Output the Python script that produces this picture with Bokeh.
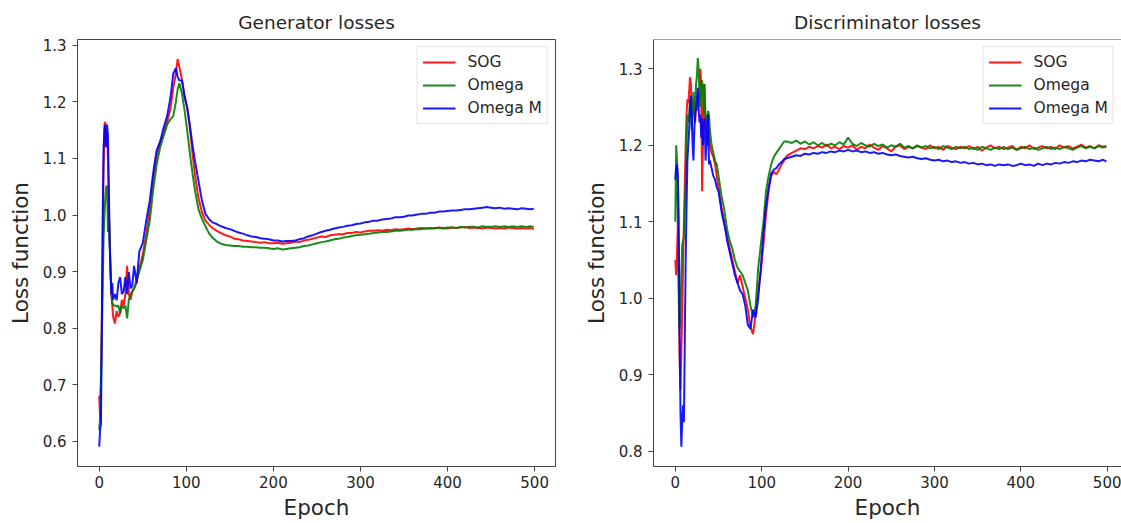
from bokeh.plotting import figure
from bokeh.models import Range1d, FixedTicker, Legend, LegendItem, Span, NumeralTickFormatter
from bokeh.layouts import row
from bokeh.embed import file_html
from bokeh.resources import INLINE

# ---------------- data ----------------
series_names = ["SOG", "Omega", "Omega M"]
series_colors = ["#ff0000", "#008000", "#0000ff"]

gen_epochs = [0, 1, 2, 3, 4, 5, 6, 7, 8, 9, 10, 11, 12, 13, 14, 15, 16,
              18, 20, 22, 24, 26, 28, 30, 32, 34, 36, 38, 40,
              43, 46,
              50, 54, 58, 62, 66, 70, 74, 78, 82,
              85, 88, 90, 92, 95, 98, 101, 104, 107, 110,
              114, 118, 122, 126, 130,
              135, 140, 145, 150, 155, 160, 165, 170, 175, 180,
              185, 190, 195, 200, 205, 210, 215, 220, 225, 230,
              235, 240, 245, 250, 255, 260, 265, 270, 275, 280,
              285, 290, 295, 300, 305, 310, 315, 320, 325, 330,
              335, 340, 345, 350, 355, 360, 365, 370, 375, 380,
              385, 390, 395, 400, 405, 410, 415, 420, 425, 430,
              435, 440, 445, 450, 455, 460, 465, 470, 475, 480,
              485, 490, 495,
              499]

gen_sog = [0.68, 0.64, 0.72, 0.82, 0.95, 1.08, 1.16, 1.165, 1.12, 1.15, 1.10, 1.02, 0.95, 0.90, 0.86, 0.84, 0.82,
           0.808, 0.83, 0.82, 0.826, 0.85, 0.84, 0.86, 0.91, 0.86, 0.85, 0.865, 0.87,
           0.88, 0.905,
           0.93, 0.965, 1.01, 1.065, 1.105, 1.13, 1.145, 1.165, 1.19,
           1.225, 1.25, 1.276, 1.262, 1.24, 1.21, 1.19, 1.155, 1.11, 1.07,
           1.03, 1.005, 0.99, 0.983, 0.977,
           0.972, 0.968, 0.964, 0.962, 0.958, 0.957, 0.955, 0.954, 0.953, 0.952,
           0.951, 0.952, 0.950, 0.950, 0.951, 0.949, 0.950, 0.951, 0.953, 0.952,
           0.955, 0.956, 0.958, 0.960, 0.962, 0.961, 0.964, 0.965, 0.966, 0.966,
           0.968, 0.968, 0.970, 0.969, 0.971, 0.972, 0.972, 0.973, 0.972, 0.974,
           0.973, 0.975, 0.974, 0.975, 0.976, 0.975, 0.976, 0.977, 0.976, 0.977,
           0.976, 0.978, 0.977, 0.976, 0.978, 0.977, 0.978, 0.979, 0.977, 0.978,
           0.977, 0.976, 0.978, 0.977, 0.976, 0.977, 0.976, 0.978, 0.977, 0.976,
           0.977, 0.976, 0.977,
           0.975]

gen_omega = [0.62, 0.64, 0.70, 0.78, 0.88, 0.96, 1.0, 1.03, 1.05, 1.052, 0.97, 1.0, 0.96, 0.90, 0.86, 0.845, 0.84,
             0.84, 0.838, 0.84, 0.826, 0.84, 0.835, 0.84, 0.817, 0.85, 0.86, 0.865, 0.87,
             0.885, 0.90,
             0.92, 0.955, 0.99, 1.045, 1.09, 1.12, 1.14, 1.16, 1.17,
             1.175, 1.20, 1.222, 1.233, 1.215, 1.185, 1.15, 1.11, 1.075, 1.043,
             1.01, 0.993, 0.98, 0.968, 0.96,
             0.953, 0.949, 0.947, 0.946, 0.945, 0.945, 0.944, 0.944, 0.943, 0.943,
             0.942, 0.942, 0.941, 0.940, 0.941, 0.939, 0.940, 0.941, 0.942, 0.943,
             0.945, 0.946, 0.948, 0.950, 0.952, 0.953, 0.955, 0.957, 0.958, 0.960,
             0.961, 0.963, 0.964, 0.965, 0.966, 0.967, 0.968, 0.969, 0.970, 0.970,
             0.971, 0.972, 0.972, 0.973, 0.974, 0.974, 0.975, 0.975, 0.976, 0.976,
             0.977, 0.977, 0.976, 0.978, 0.978, 0.977, 0.979, 0.978, 0.979, 0.979,
             0.978, 0.980, 0.979, 0.979, 0.980, 0.979, 0.980, 0.979, 0.980, 0.979,
             0.980, 0.979, 0.980,
             0.979]

gen_omega_m = [0.59, 0.62, 0.63, 0.80, 1.0, 1.12, 1.15, 1.16, 1.12, 1.16, 1.14, 1.05, 0.95, 0.90, 0.86, 0.88, 0.85,
               0.86, 0.849, 0.88, 0.89, 0.86, 0.865, 0.89, 0.86, 0.899, 0.87, 0.875, 0.91,
               0.88, 0.935,
               0.95, 0.99, 1.025, 1.075, 1.115, 1.13, 1.155, 1.175, 1.21,
               1.25, 1.26, 1.245, 1.238, 1.238, 1.21, 1.19, 1.16, 1.125, 1.095,
               1.06, 1.025, 1.002, 0.993, 0.987,
               0.984, 0.980, 0.977, 0.975, 0.972, 0.969, 0.967, 0.964, 0.962, 0.961,
               0.959, 0.958, 0.957, 0.955, 0.955, 0.953, 0.954, 0.954, 0.955, 0.957,
               0.959, 0.962, 0.964, 0.967, 0.970, 0.972, 0.974, 0.976, 0.978, 0.979,
               0.981, 0.982, 0.984, 0.985, 0.987, 0.988, 0.990, 0.990, 0.992, 0.993,
               0.994, 0.996, 0.996, 0.997, 0.999, 0.999, 1.001, 1.002, 1.002, 1.004,
               1.004, 1.006, 1.006, 1.007, 1.008, 1.008, 1.009, 1.010, 1.010, 1.011,
               1.012, 1.013, 1.014, 1.013, 1.012, 1.013, 1.011, 1.012, 1.011, 1.010,
               1.012, 1.011, 1.010,
               1.011]

disc_epochs = [0, 1, 2, 3, 4, 5, 6, 7, 8, 9,
               10, 11, 12, 13, 14, 15, 16, 17, 18, 19,
               20, 21, 22, 23, 24, 25, 26, 27, 28, 29,
               30, 31, 32, 33, 34, 35, 36, 37, 38, 39,
               40,
               42, 44, 46, 48, 50, 52, 54, 56, 58, 60,
               63, 66, 69, 72, 75, 78, 81, 84, 87, 90, 93, 96, 99, 102, 105, 108, 111, 114, 117, 120, 123, 126, 129,
               135, 140, 145, 150, 155, 160, 165, 170, 175, 180,
               185, 190, 195, 200, 205, 210, 215, 220, 225, 230,
               235, 240, 245, 250, 255, 260, 265, 270, 275, 280,
               285, 290, 295, 300, 305, 310, 315, 320, 325, 330,
               335, 340, 345, 350, 355, 360, 365, 370, 375, 380,
               385, 390, 395, 400, 405, 410, 415, 420, 425, 430,
               435, 440, 445, 450, 455, 460, 465, 470, 475, 480,
               485, 490, 495,
               499]

disc_sog = [1.05, 1.03, 1.06, 1.10, 1.00, 0.92, 0.88, 0.93, 0.98, 1.05,
            1.10, 1.15, 1.20, 1.24, 1.26, 1.255, 1.27, 1.289, 1.28, 1.25,
            1.24, 1.26, 1.24, 1.23, 1.25, 1.245, 1.26, 1.27, 1.26, 1.30,
            1.28, 1.14, 1.20, 1.28, 1.26, 1.22, 1.24, 1.20, 1.23, 1.21,
            1.20,
            1.19, 1.185, 1.175, 1.16, 1.145, 1.13, 1.115, 1.105, 1.09, 1.08,
            1.065, 1.05, 1.035, 1.02, 1.03, 1.015, 1.0, 0.985, 0.962, 0.953, 0.98, 1.01, 1.035, 1.07, 1.11, 1.14,
            1.16, 1.165, 1.162, 1.168, 1.175, 1.18, 1.186,
            1.190, 1.193, 1.196, 1.195, 1.198, 1.196, 1.199, 1.197, 1.201, 1.196,
            1.198, 1.195, 1.199, 1.197, 1.200, 1.194, 1.198, 1.196, 1.201, 1.197,
            1.194, 1.199, 1.196, 1.192, 1.198, 1.200, 1.195, 1.198, 1.196, 1.199,
            1.197, 1.195, 1.200, 1.196, 1.198, 1.194, 1.199, 1.197, 1.195, 1.198,
            1.196, 1.199, 1.195, 1.198, 1.193, 1.197, 1.200, 1.196, 1.198, 1.195,
            1.197, 1.199, 1.194, 1.198, 1.196, 1.200, 1.195, 1.197, 1.199, 1.196,
            1.198, 1.195, 1.200, 1.197, 1.199, 1.196, 1.198, 1.201, 1.197, 1.199,
            1.196, 1.200, 1.198,
            1.199]

disc_omega = [1.10, 1.20, 1.18, 1.10, 1.02, 0.96, 0.98, 1.03, 1.07, 1.075,
              1.08, 1.12, 1.15, 1.20, 1.24, 1.23, 1.24, 1.26, 1.25, 1.22,
              1.24, 1.27, 1.24, 1.25, 1.28, 1.29, 1.314, 1.30, 1.27, 1.25,
              1.28, 1.285, 1.27, 1.24, 1.28, 1.235, 1.24, 1.23, 1.245, 1.24,
              1.22,
              1.20, 1.19, 1.18, 1.175, 1.16, 1.145, 1.13, 1.12, 1.105, 1.09,
              1.075, 1.065, 1.05, 1.04, 1.035, 1.03, 1.02, 1.01, 0.99, 0.975, 0.99, 1.04, 1.07, 1.10, 1.14, 1.16,
              1.175, 1.185, 1.19, 1.195, 1.20, 1.205, 1.205,
              1.203, 1.206, 1.202, 1.205, 1.201, 1.204, 1.200, 1.203, 1.199, 1.202,
              1.200, 1.204, 1.201, 1.210, 1.202, 1.199, 1.203, 1.200, 1.198, 1.202,
              1.199, 1.201, 1.197, 1.200, 1.198, 1.202, 1.197, 1.199, 1.196, 1.200,
              1.197, 1.199, 1.196, 1.198, 1.195, 1.199, 1.197, 1.195, 1.198, 1.196,
              1.198, 1.195, 1.197, 1.194, 1.198, 1.196, 1.194, 1.197, 1.195, 1.198,
              1.195, 1.197, 1.194, 1.196, 1.198, 1.195, 1.197, 1.194, 1.196, 1.198,
              1.195, 1.197, 1.195, 1.198, 1.196, 1.194, 1.197, 1.199, 1.196, 1.198,
              1.196, 1.199, 1.197,
              1.198]

disc_omega_m = [1.155, 1.17, 1.175, 1.16, 1.10, 0.95, 0.85, 0.806, 0.84, 0.86,
                0.838, 0.95, 1.05, 1.12, 1.18, 1.20, 1.22, 1.25, 1.265, 1.24,
                1.20, 1.18, 1.22, 1.24, 1.25, 1.26, 1.275, 1.25, 1.23, 1.24,
                1.21, 1.235, 1.20, 1.22, 1.235, 1.18, 1.20, 1.23, 1.24, 1.175,
                1.18,
                1.17, 1.16, 1.155, 1.145, 1.14, 1.125, 1.11, 1.10, 1.09, 1.075,
                1.06, 1.045, 1.03, 1.02, 1.01, 1.005, 0.99, 0.965, 0.96, 0.985, 0.975, 1.0, 1.04, 1.085, 1.12, 1.145,
                1.163, 1.168, 1.17, 1.175, 1.178, 1.182, 1.183,
                1.185, 1.187, 1.186, 1.189, 1.188, 1.190, 1.189, 1.191, 1.190, 1.192,
                1.191, 1.193, 1.192, 1.194, 1.192, 1.193, 1.191, 1.192, 1.190, 1.191,
                1.189, 1.190, 1.188, 1.187, 1.188, 1.186, 1.185, 1.184, 1.185, 1.183,
                1.182, 1.183, 1.181, 1.180, 1.181, 1.179, 1.180, 1.178, 1.179, 1.177,
                1.178, 1.176, 1.177, 1.175, 1.176, 1.174, 1.175, 1.173, 1.175, 1.174,
                1.175, 1.173, 1.174, 1.176, 1.174, 1.175, 1.173, 1.176, 1.174, 1.176,
                1.175, 1.177, 1.176, 1.178, 1.177, 1.179, 1.178, 1.180, 1.179, 1.181,
                1.180, 1.179, 1.181,
                1.179]

x_ticks = [0, 100, 200, 300, 400, 500]
gen_y_ticks = [0.6, 0.7, 0.8, 0.9, 1.0, 1.1, 1.2, 1.3]
disc_y_ticks = [0.8, 0.9, 1.0, 1.1, 1.2, 1.3]

titles = ["Generator losses", "Discriminator losses"]
x_label = "Epoch"
y_label = "Loss function"

# ---------------- styling ----------------
FONT = "DejaVu Sans"
TEXT = "#262626"
SPINE = "#444444"


def make_fig(title, width, xr, yr, yticks, min_left, min_right, epochs, series, outline):
    p = figure(width=width, height=523,
               x_range=Range1d(*xr), y_range=Range1d(*yr),
               output_backend="svg", toolbar_location=None,
               min_border_left=min_left, min_border_right=min_right,
               min_border_top=39, min_border_bottom=57)
    p.background_fill_color = "white"
    p.border_fill_color = "white"
    p.grid.visible = False
    if outline:
        p.outline_line_color = SPINE
        p.outline_line_width = 1
    else:
        p.outline_line_color = None
        p.add_layout(Span(location=yr[1], dimension="width",
                          line_color=SPINE, line_width=1))

    p.title.text = title
    p.title.align = "center"
    p.title.text_font = FONT
    p.title.text_font_size = "18.5px"
    p.title.text_font_style = "normal"
    p.title.text_color = TEXT
    p.title.standoff = 13

    p.xaxis.ticker = FixedTicker(ticks=x_ticks)
    p.yaxis.ticker = FixedTicker(ticks=yticks)
    p.yaxis.formatter = NumeralTickFormatter(format="0.0")
    p.xaxis.axis_label = x_label
    p.yaxis.axis_label = y_label
    for ax in (p.xaxis[0], p.yaxis[0]):
        ax.axis_line_color = SPINE
        ax.axis_line_width = 1
        ax.major_tick_line_color = SPINE
        ax.major_tick_out = 5
        ax.major_tick_in = 0
        ax.minor_tick_line_color = None
        ax.major_label_text_font = FONT
        ax.major_label_text_font_size = "15px"
        ax.major_label_text_color = TEXT
        ax.axis_label_text_font = FONT
        ax.axis_label_text_font_size = "21.5px"
        ax.axis_label_text_font_style = "normal"
        ax.axis_label_text_color = TEXT
    p.xaxis.major_label_standoff = 4
    p.xaxis.axis_label_standoff = 4
    p.yaxis.major_label_standoff = 6
    p.yaxis.axis_label_standoff = 7

    items = []
    for name, color, vals in zip(series_names, series_colors, series):
        r = p.line(epochs, vals, line_color=color, line_width=2, line_alpha=0.9)
        items.append(LegendItem(label=name, renderers=[r]))
    legend = Legend(items=items, location="top_right")
    legend.label_text_font = FONT
    legend.label_text_font_size = "15.5px"
    legend.label_text_color = TEXT
    legend.glyph_width = 33
    legend.glyph_height = 20
    legend.label_height = 20
    legend.label_standoff = 12
    legend.spacing = 3
    legend.padding = 5
    legend.margin = 7
    legend.border_line_color = "#cccccc"
    legend.border_line_width = 1
    legend.background_fill_color = "white"
    legend.background_fill_alpha = 0.8
    p.add_layout(legend)
    return p


p1 = make_fig(titles[0], 580, (-24.95, 523.95), (0.5549, 1.3106), gen_y_ticks,
              77, 25, gen_epochs, [gen_sog, gen_omega, gen_omega_m], True)
p2 = make_fig(titles[1], 541, (-25.25, 516.5), (0.78, 1.3383), disc_y_ticks,
              69, 0, disc_epochs, [disc_sog, disc_omega, disc_omega_m], False)

layout = row(p1, p2)
open("out.html", "w").write(file_html(layout, INLINE))
